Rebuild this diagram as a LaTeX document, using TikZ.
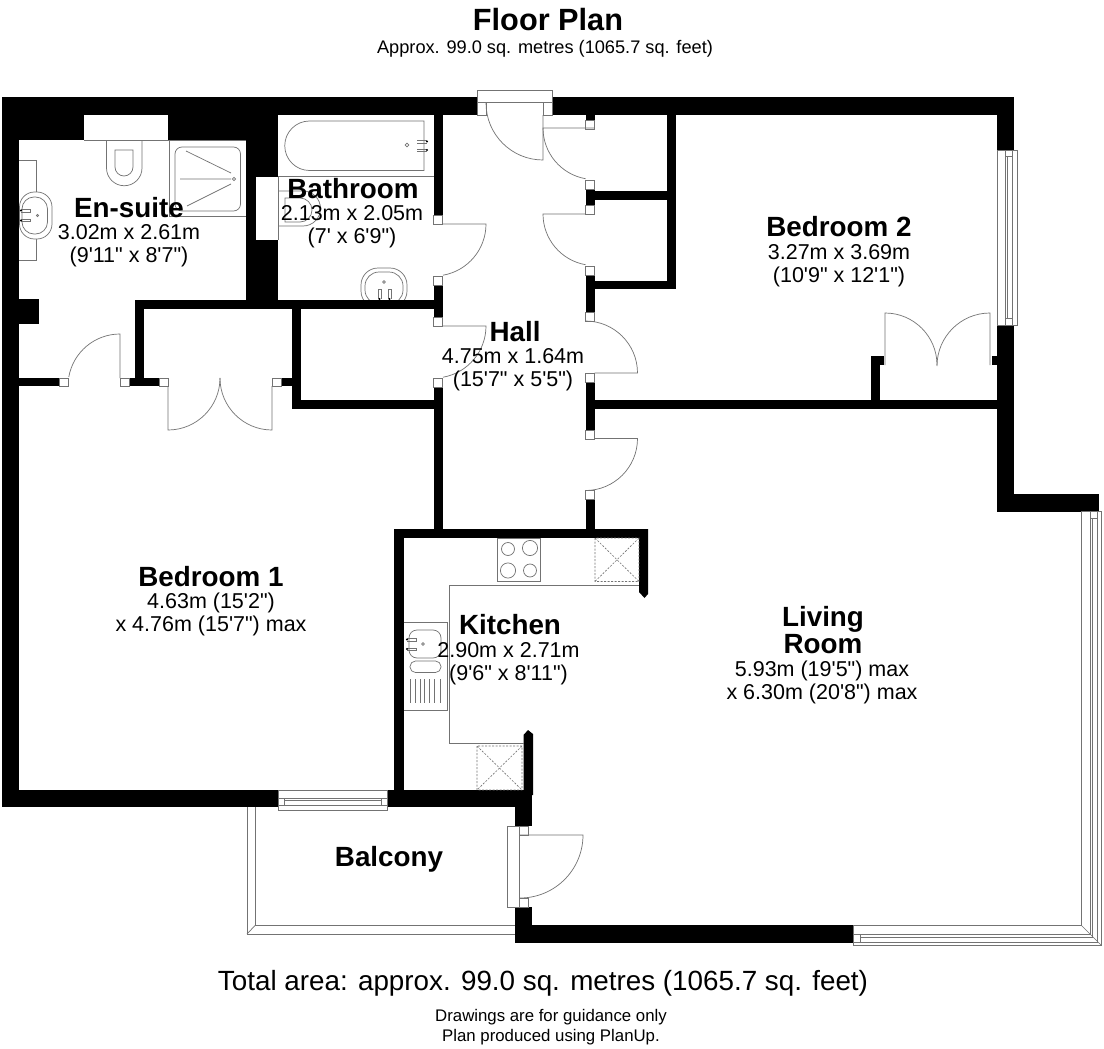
\documentclass[tikz,border=0pt]{standalone}
\usepackage{fontspec}
\newfontfamily\planfont{Liberation Sans}
\tikzset{
    wall/.style={fill=black},
    fitting/.style={draw=black!55, line width=0.7pt},
    jamb/.style={draw=black!55, fill=white, line width=0.7pt},
    kitchenbox/.style={draw=black!55, line width=0.6pt, dash pattern=on 2pt off 1.5pt},
    roomname/.style={font=\planfont\bfseries\fontsize{27.8}{27}\selectfont, align=center, inner sep=0pt},
    roomsize/.style={font=\planfont\fontsize{21.5}{22.5}\selectfont, align=center, inner sep=0pt}
}
\begin{document}
\begin{tikzpicture}[x=1pt, y=-1pt]
\useasboundingbox[fill=white] (0,0) rectangle (1104,1049);

% fittings the walls cut off
\draw[fitting, rounded corners=17pt] (361,268) rectangle (407,308);
\draw[fitting, rounded corners=14pt] (365,272) rectangle (403,304);

% outer walls
\fill[wall] (2,97) rectangle (477,115);
\fill[wall] (552,97) rectangle (1014,115);
\fill[wall] (2,97) rectangle (19,807);
\fill[wall] (2,790) rectangle (278,807);
\fill[wall] (387.5,790) rectangle (532,807);
\fill[wall] (515,790) rectangle (532,826);
\fill[wall] (515,907) rectangle (532,943);
\fill[wall] (515,925) rectangle (853,943);
\fill[wall] (997,97) rectangle (1014,150);
\fill[wall] (997,325) rectangle (1014,511.5);
\fill[wall] (997,494) rectangle (1099,511.5);

% en-suite and bathroom
\fill[wall] (19,115) rectangle (84,140);
\fill[wall] (168,115) rectangle (246,140);
\fill[wall] (246,97) rectangle (278,177);
\fill[wall] (246,177) rectangle (256,240);
\fill[wall] (246,240) rectangle (278,309);
\fill[wall] (19,299) rectangle (39,324);
\fill[wall] (135,300) rectangle (443,309);
\fill[wall] (135,300) rectangle (144,378);
\fill[wall] (19,378) rectangle (59,386);
\fill[wall] (129,378) rectangle (159,386);
\fill[wall] (281,378) rectangle (292,386);
\fill[wall] (292,300) rectangle (301,409);
\fill[wall] (292,400) rectangle (443,409);

% hall
\fill[wall] (433.5,115) rectangle (443,215);
\fill[wall] (433.5,285) rectangle (443,317);
\fill[wall] (433.5,387) rectangle (443,530);
\fill[wall] (585.5,115) rectangle (594.5,120);
\fill[wall] (585.5,189) rectangle (594.5,205);
\fill[wall] (585.5,275) rectangle (594.5,312);
\fill[wall] (585.5,382) rectangle (594.5,430);
\fill[wall] (585.5,499) rectangle (594.5,530);
\fill[wall] (585.5,191) rectangle (668,200);
\fill[wall] (585.5,280.5) rectangle (676,289);
\fill[wall] (667,115) rectangle (676,289);
\fill[wall] (585.5,399.5) rectangle (997,409);

% bedroom 2 stubs
\fill[wall] (870.5,356) rectangle (879.5,400);
\fill[wall] (870.5,356) rectangle (883.5,365);
\fill[wall] (992,356) rectangle (997,365);

% kitchen
\fill[wall] (394,529) rectangle (648,538);
\fill[wall] (394,529) rectangle (403.5,795);
\fill[wall] (639,529) -- (648,529) -- (648,594) -- (644.5,598) -- (639,592) -- cycle;
\fill[wall] (523.5,795) -- (523.5,735) -- (528,730) -- (533,734) -- (533,795) -- cycle;

% notches and jambs
\fill[white] (84,115) rectangle (168,140);
\fill[white] (256,177) rectangle (278,240);
\foreach \x/\y in {59/378, 120/378, 159/378, 272/378}
    \draw[jamb] (\x,\y) rectangle ++(9,8.5);
\foreach \x/\y in {433.5/215, 433.5/276, 433.5/317, 433.5/378, 585.5/120, 585.5/180, 585.5/205, 585.5/266, 585.5/312, 585.5/373, 585.5/430, 585.5/490}
    \draw[jamb] (\x,\y) rectangle ++(9,9);
\foreach \x/\y in {477/102, 543/102}
    \draw[jamb] (\x,\y) rectangle ++(9,13);
\foreach \x/\y in {519/826, 519/898}
    \draw[jamb] (\x,\y) rectangle ++(9,9);

% doors
\draw[jamb] (477,90) rectangle (552,102.5);
\draw[fitting] (486,103) arc (180:270:57pt) -- (543,115);
\draw[fitting] (594.5,128) -- (543,128) arc (180:260:51.5pt);
\draw[fitting] (585.5,214) -- (543,214) arc (180:260:51.5pt);
\draw[fitting] (443,224) -- (486,224) arc (0:-80:52pt);
\draw[fitting] (443,326) -- (486,326) arc (0:-80:52pt);
\draw[fitting] (594.5,373) -- (637.5,373) arc (0:90:52pt);
\draw[fitting] (594.5,438.5) -- (637.5,438.5) arc (0:-90:52pt);
\draw[fitting] (885,365) -- (885,313) arc (90:0:52pt);
\draw[fitting] (990,365) -- (990,313) arc (90:180:53pt);
\draw[fitting] (168,386) -- (168,430) arc (-90:0:52pt);
\draw[fitting] (272,386) -- (272,430) arc (-90:-180:52pt);
\draw[fitting] (120,378) -- (120,334) arc (90:170:52pt);
\draw[jamb] (507.5,826) rectangle (519.5,907);
\draw[fitting] (519.5,835) -- (583,835) arc (0:-90:63pt);

% windows
\draw[jamb] (997,150) rectangle (1017,325);
\draw[fitting] (1005.5,150) -- (1005.5,325) (1007.7,156) -- (1007.7,318) (1012.5,150) -- (1012.5,325) (1005.5,156) -- (1012.5,156) (1005.5,318) -- (1012.5,318);
\draw[jamb] (278,790) rectangle (387.5,810);
\draw[fitting] (278,798.5) -- (387.5,798.5) (284,800.5) -- (381,800.5) (278,805.5) -- (387.5,805.5) (284,798.5) -- (284,805.5) (381,798.5) -- (381,805.5);

% living room glazing
\draw[fitting] (853,925) -- (1081,925) -- (1081,511.5);
\draw[fitting] (853,934) -- (1090,934) -- (1090,511.5);
\draw[fitting] (860,937) -- (1092.7,937) -- (1092.7,518);
\draw[fitting] (853,942) -- (1097.7,942) -- (1097.7,511.5);
\draw[fitting] (853,925) -- (853,945.7) -- (1101.7,945.7) -- (1101.7,511.5) -- (1081,511.5);
\draw[fitting] (1081,925) -- (1101.7,945.7);
\draw[fitting] (860,934) -- (860,942) (1090,518) -- (1097.7,518);

% balcony
\draw[fitting] (247,807) -- (247,934) -- (515,934);
\draw[fitting] (255.5,807) -- (255.5,925) -- (515,925);
\draw[fitting] (247,934) -- (255.5,925);

% en-suite fittings
\draw[fitting] (84,140) -- (246,140) (169,140) -- (169,216) -- (246,216);
\draw[fitting, rounded corners=7pt] (175,147) rectangle (240.5,211);
\draw[fitting] (186,151) -- (231,173) (180,179) -- (231,179) (187,206) -- (231,184);
\draw[fitting] (234,179) circle (1.7pt);
\draw[fitting] (106.5,140) -- (106.5,168) arc (180:360:17.75pt) -- (142,140);
\draw[fitting] (115,150) -- (133,150) -- (133,167) arc (0:-180:9pt) -- cycle;
\draw[fitting] (19,160) -- (36.5,160) -- (36.5,192) (36.5,239) -- (36.5,260) -- (19,260);
\draw[fitting, fill=white, rounded corners=15pt] (19.5,192) rectangle (52,239);
\draw[fitting, rounded corners=12pt] (22,197) rectangle (47.5,234);
\draw[fitting] (21,209.5) -- (30.5,209.5) -- (30.5,212) -- (21,212) (21,219) -- (30.5,219) -- (30.5,221.5) -- (21,221.5);
\fill[black] (21,210.5) circle (1.2pt) (21,220.5) circle (1.2pt);
\draw[fitting] (37.5,215.5) circle (1.2pt);

% bathroom fittings
\draw[fitting] (278,176) -- (433.5,176) (278,177) -- (278,240);
\draw[fitting] (424,121) -- (309.5,121) arc (90:270:24.75pt) -- (424,170.5) -- cycle;
\draw[fitting] (407,145) circle (1.8pt);
\draw[fitting] (417,140.5) -- (427,140.5) (417,143) -- (427,143) (417,149) -- (427,149) (417,151.5) -- (427,151.5);
\fill[black] (427,141.5) circle (1.2pt) (427,150) circle (1.2pt);
\draw[fitting] (278,191) -- (303,191) arc (90:-90:17.5pt) -- (278,226);
\draw[fitting] (285,198) -- (300,198) arc (90:-90:12pt) -- (285,222) -- cycle;
\draw[fitting] (384,282) circle (1.3pt);
\draw[fitting] (378,289) -- (378,299) (381,289) -- (381,299) (378,289) -- (381,289);
\draw[fitting] (388,289) -- (388,299) (391,289) -- (391,299) (388,289) -- (391,289);
\fill[black] (379.5,299) circle (1.2pt) (389.5,299) circle (1.2pt);

% kitchen fittings
\draw[fitting] (639,585) -- (449.5,585) -- (449.5,743) -- (523.5,743);
\draw[fitting] (497,538) rectangle (540.7,581.5);
\draw[fitting] (508,549) circle (6.5pt) (530,548) circle (7.6pt) (508,570.5) circle (7.6pt) (530,570.5) circle (6.5pt);
\draw[kitchenbox] (595,538) rectangle (639,581.5) (595,538) -- (639,581.5) (639,538) -- (595,581.5);
\draw[kitchenbox] (477,746) rectangle (522,790) (477,746) -- (522,790) (522,746) -- (477,790);
\draw[fitting] (403.5,622) -- (447,622) -- (447,710) -- (403.5,710);
\draw[fitting, rounded corners=8pt] (409,630) rectangle (441,658);
\draw[fitting, rounded corners=5.5pt] (410,661) rectangle (441,672.5);
\foreach \x in {410,415,420,424.5,429.5,434.5,440}
    \draw[fitting] (\x,679) -- (\x,703);
\draw[fitting] (407,638.5) -- (416,638.5) -- (416,641) -- (407,641) (407,648) -- (416,648) -- (416,650.5) -- (407,650.5);
\fill[black] (407,639.5) circle (1.2pt) (407,649) circle (1.2pt);
\draw[fitting] (423,644) circle (1.4pt);

% titles
\node[font=\planfont\bfseries\fontsize{30.7}{32}\selectfont, inner sep=0pt] (title) at (548,19.5) {Floor Plan};
\node[font=\planfont\fontsize{18.2}{20}\selectfont, inner sep=0pt] (subtitle) at (545,49) {Approx. 99.0 sq. metres (1065.7 sq. feet)};
\node[font=\planfont\fontsize{27.8}{30}\selectfont, inner sep=0pt] (total) at (543,983) {Total area: approx. 99.0 sq. metres (1065.7 sq. feet)};
\node[font=\planfont\fontsize{16.8}{20}\selectfont, align=center, inner sep=0pt] (notes) at (551,1027.5) {Drawings are for guidance only\\Plan produced using PlanUp.};

% rooms
\node[roomname] (ensuite) at (129,208) {En-suite};
\node[roomsize] (ensuitesize) at (129,245.5) {3.02m x 2.61m\\(9'11" x 8'7")};
\node[roomname] (bathroom) at (353,189) {Bathroom};
\node[roomsize] (bathroomsize) at (352,226.5) {2.13m x 2.05m\\(7' x 6'9")};
\node[roomname] (hall) at (515,332) {Hall};
\node[roomsize] (hallsize) at (513,369.5) {4.75m x 1.64m\\(15'7" x 5'5")};
\node[roomname] (bedroomtwo) at (839,227) {Bedroom 2};
\node[roomsize] (bedroomtwosize) at (839,265.5) {3.27m x 3.69m\\(10'9" x 12'1")};
\node[roomname] (bedroomone) at (211,577) {Bedroom 1};
\node[roomsize] (bedroomonesize) at (211,614.5) {4.63m (15'2")\\x 4.76m (15'7") max};
\node[roomname] (kitchen) at (510,625) {Kitchen};
\node[roomsize] (kitchensize) at (508.5,663.5) {2.90m x 2.71m\\(9'6" x 8'11")};
\node[roomname] (living) at (823,630.5) {Living\\Room};
\node[roomsize] (livingsize) at (822,682.5) {5.93m (19'5") max\\x 6.30m (20'8") max};
\node[roomname] (balcony) at (389,859) {Balcony};
\end{tikzpicture}
\end{document}
